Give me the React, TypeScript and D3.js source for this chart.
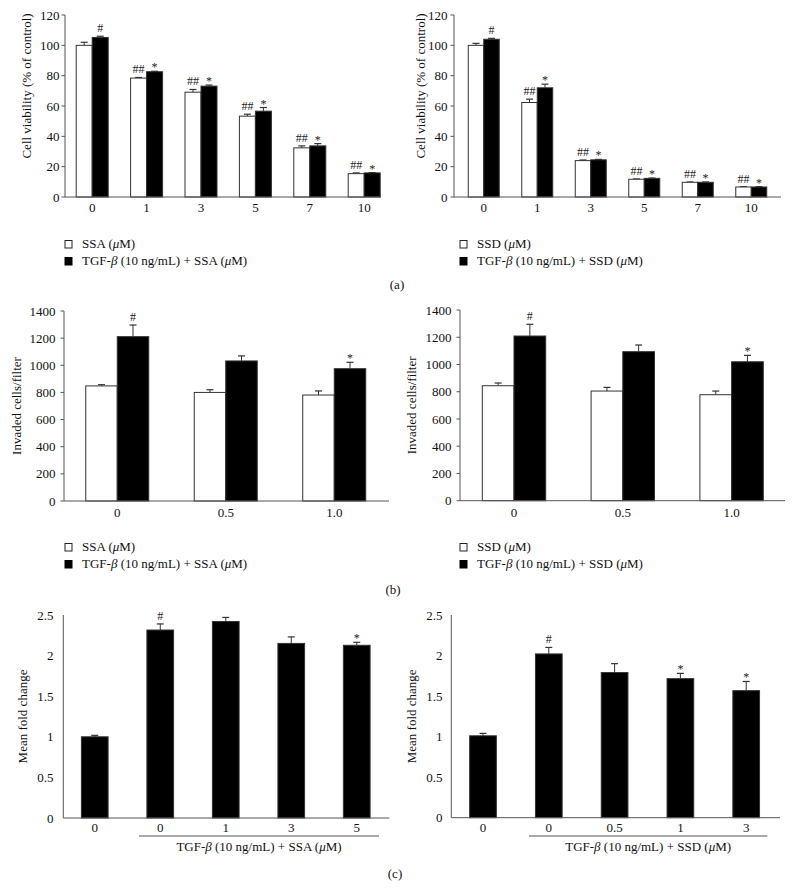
import React from "react";
import * as d3 from "d3";

// ---------- DATA ----------
const aCats = ["0", "1", "3", "5", "7", "10"];
const aTicks = [0, 20, 40, 60, 80, 100, 120];

const aSSAWhite = [100, 78.4, 69.1, 53.3, 32.4, 15.4];
const aSSAWhiteErr = [2, 0.4, 1.8, 1.3, 1.3, 0.5];
const aSSABlack = [105.2, 82.6, 73.1, 56.6, 33.7, 15.9];
const aSSABlackErr = [0.8, 0.3, 0.7, 2.4, 1.5, 0.2];

const aSSDWhite = [100, 62.3, 24, 11.7, 9.7, 6.6];
const aSSDWhiteErr = [1.3, 2.2, 0.4, 0.2, 0.2, 0.2];
const aSSDBlack = [104, 72, 24.5, 12.3, 9.7, 6.6];
const aSSDBlackErr = [0.6, 2.4, 0.3, 0.2, 0.2, 0.2];

const aWhiteMarks = ["", "##", "##", "##", "##", "##"];
const aBlackMarks = ["#", "*", "*", "*", "*", "*"];

const bCats = ["0", "0.5", "1.0"];
const bTicks = [0, 200, 400, 600, 800, 1000, 1200, 1400];

const bSSAWhite = [848, 800, 781];
const bSSAWhiteErr = [9, 20, 30];
const bSSABlack = [1211, 1032, 975];
const bSSABlackErr = [86, 37, 47];

const bSSDWhite = [844, 805, 778];
const bSSDWhiteErr = [20, 27, 27];
const bSSDBlack = [1209, 1094, 1020];
const bSSDBlackErr = [86, 49, 47];

const bWhiteMarks = ["", "", ""];
const bBlackMarks = ["#", "", "*"];

const cTicks = [0, 0.5, 1, 1.5, 2, 2.5];
const cSSACats = ["0", "0 ", "1", "3", "5"];
const cSSAValues = [1.0, 2.315, 2.42, 2.15, 2.127];
const cSSAErr = [0.018, 0.075, 0.05, 0.08, 0.037];
const cSSAMarks = ["", "#", "", "", "*"];

const cSSDCats = ["0", "0 ", "0.5", "1", "3"];
const cSSDValues = [1.01, 2.02, 1.79, 1.715, 1.567];
const cSSDErr = [0.03, 0.08, 0.11, 0.065, 0.113];
const cSSDMarks = ["", "#", "", "*", "*"];

// ---------- STYLE ----------
const FONT = "'Liberation Serif', 'Times New Roman', serif";
const AXIS = "#555";
const BAR_STROKE = "#333";

type Series = {
  values: number[];
  errs: number[];
  fill: string;
  marks: string[];
  offset: number; // in bar widths relative to band centre
};

type PanelProps = {
  cats: string[];
  ticks: number[];
  domain: [number, number];
  band: [number, number];
  axisX: number;
  axisEnd: number;
  yBottom: number;
  yTop: number;
  barW: number;
  series: Series[];
  yLabel: string;
  yLabelX: number;
  yLabelY?: number;
  tickLen: number;
  labelEnd: number;
  xLabelDy: number;
};

function BarPanel(p: PanelProps) {
  const x = d3.scaleBand<string>().domain(p.cats).range(p.band).padding(0);
  const y = d3.scaleLinear().domain(p.domain).range([p.yBottom, p.yTop]);
  const centre = (c: string) => (x(c) as number) + x.bandwidth() / 2;
  const yMid = p.yLabelY ?? (p.yBottom + p.yTop) / 2;
  return (
    <g fontFamily={FONT}>
      {p.series.map((s, si) =>
        p.cats.map((c, i) => {
          const x0 = centre(c) + s.offset * p.barW;
          const top = y(s.values[i]);
          const errTop = y(s.values[i] + s.errs[i]);
          const cx = x0 + p.barW / 2;
          const mark = s.marks[i];
          return (
            <g key={`${si}-${i}`}>
              <line x1={cx} x2={cx} y1={top} y2={errTop} stroke={BAR_STROKE} strokeWidth={1} />
              <line x1={cx - 3.5} x2={cx + 3.5} y1={errTop} y2={errTop} stroke={BAR_STROKE} strokeWidth={1.2} />
              <rect
                x={x0}
                y={top}
                width={p.barW}
                height={p.yBottom - top}
                fill={s.fill}
                stroke={BAR_STROKE}
                strokeWidth={1}
              />
              {mark && (
                <text
                  x={cx}
                  y={errTop - (mark.includes("#") ? 4 : 0)}
                  textAnchor="middle"
                  fontSize={12}
                  fill="#222"
                >
                  {mark}
                </text>
              )}
            </g>
          );
        })
      )}
      {/* axes */}
      <line x1={p.axisX} x2={p.axisX} y1={p.yTop} y2={p.yBottom} stroke={AXIS} strokeWidth={1} />
      <line x1={p.axisX} x2={p.axisEnd} y1={p.yBottom} y2={p.yBottom} stroke={AXIS} strokeWidth={1} />
      {p.ticks.map((t) => (
        <g key={t}>
          {p.tickLen > 0 && (
            <line x1={p.axisX - p.tickLen} x2={p.axisX} y1={y(t)} y2={y(t)} stroke={AXIS} strokeWidth={1} />
          )}
          <text x={p.labelEnd} y={y(t)} dy="0.35em" textAnchor="end" fontSize={13} fill="#111">
            {d3.format("~g")(t)}
          </text>
        </g>
      ))}
      {p.cats.map((c) => (
        <text key={c} x={centre(c)} y={p.yBottom + p.xLabelDy} textAnchor="middle" fontSize={13} fill="#111">
          {c.trim()}
        </text>
      ))}
      <text
        transform={`translate(${p.yLabelX},${yMid}) rotate(-90)`}
        textAnchor="middle"
        fontSize={13}
        fill="#111"
      >
        {p.yLabel}
      </text>
    </g>
  );
}

function Legend({ x, y, drug }: { x: number; y: number; drug: string }) {
  return (
    <g fontFamily={FONT} fontSize={13} fill="#111">
      <rect x={x} y={y - 7.5} width={7} height={7.5} fill="#fff" stroke="#222" strokeWidth={1} />
      <text x={x + 17} y={y}>
        {drug} (<tspan fontStyle="italic">μ</tspan>M)
      </text>
      <rect x={x} y={y + 9.5} width={7} height={7.5} fill="#000" stroke="#000" strokeWidth={1} />
      <text x={x + 17} y={y + 17}>
        TGF-<tspan fontStyle="italic">β</tspan> (10 ng/mL) + {drug} (<tspan fontStyle="italic">μ</tspan>M)
      </text>
    </g>
  );
}

function GroupLabel({ x1, x2, y, drug }: { x1: number; x2: number; y: number; drug: string }) {
  return (
    <g fontFamily={FONT} fontSize={13} fill="#111">
      <line x1={x1} x2={x2} y1={y} y2={y} stroke={AXIS} strokeWidth={1} />
      <text x={(x1 + x2) / 2} y={y + 14.5} textAnchor="middle">
        TGF-<tspan fontStyle="italic">β</tspan> (10 ng/mL) + {drug} (<tspan fontStyle="italic">μ</tspan>M)
      </text>
    </g>
  );
}

export default function App() {
  return (
    <svg
      width={794}
      height={888}
      viewBox="0 0 794 888"
      style={{ position: "absolute", left: 0, top: 0, background: "#fff" }}
    >
      <rect width={794} height={888} fill="#fff" />
      {/* (a) left */}
      <BarPanel
        cats={aCats}
        ticks={aTicks}
        domain={[0, 120]}
        band={[65, 391.4]}
        axisX={65}
        axisEnd={381}
        yBottom={197}
        yTop={15}
        barW={16}
        series={[
          { values: aSSAWhite, errs: aSSAWhiteErr, fill: "#fff", marks: aWhiteMarks, offset: -1 },
          { values: aSSABlack, errs: aSSABlackErr, fill: "#000", marks: aBlackMarks, offset: 0 },
        ]}
        yLabel="Cell viability (% of control)"
        yLabelX={31}
        yLabelY={86}
        tickLen={3.5}
        labelEnd={59.5}
        xLabelDy={14.5}
      />
      {/* (a) right */}
      <BarPanel
        cats={aCats}
        ticks={aTicks}
        domain={[0, 120]}
        band={[457, 778]}
        axisX={454}
        axisEnd={781}
        yBottom={197}
        yTop={15}
        barW={15.5}
        series={[
          { values: aSSDWhite, errs: aSSDWhiteErr, fill: "#fff", marks: aWhiteMarks, offset: -1 },
          { values: aSSDBlack, errs: aSSDBlackErr, fill: "#000", marks: aBlackMarks, offset: 0 },
        ]}
        yLabel="Cell viability (% of control)"
        yLabelX={425}
        yLabelY={86}
        tickLen={3.5}
        labelEnd={447.5}
        xLabelDy={14.5}
      />
      <Legend x={65} y={248} drug="SSA" />
      <Legend x={460} y={248} drug="SSD" />
      <text x={397} y={289} textAnchor="middle" fontFamily={FONT} fontSize={13} fill="#111">(a)</text>

      {/* (b) left */}
      <BarPanel
        cats={bCats}
        ticks={bTicks}
        domain={[0, 1400]}
        band={[63, 388.5]}
        axisX={64}
        axisEnd={389}
        yBottom={501}
        yTop={311}
        barW={31.5}
        series={[
          { values: bSSAWhite, errs: bSSAWhiteErr, fill: "#fff", marks: bWhiteMarks, offset: -1 },
          { values: bSSABlack, errs: bSSABlackErr, fill: "#000", marks: bBlackMarks, offset: 0 },
        ]}
        yLabel="Invaded cells/filter"
        yLabelX={20.5}
        tickLen={3.5}
        labelEnd={55.5}
        xLabelDy={15.5}
      />
      {/* (b) right */}
      <BarPanel
        cats={bCats}
        ticks={bTicks}
        domain={[0, 1400]}
        band={[459.6, 786]}
        axisX={460}
        axisEnd={785}
        yBottom={500.7}
        yTop={310}
        barW={31.7}
        series={[
          { values: bSSDWhite, errs: bSSDWhiteErr, fill: "#fff", marks: bWhiteMarks, offset: -1 },
          { values: bSSDBlack, errs: bSSDBlackErr, fill: "#000", marks: bBlackMarks, offset: 0 },
        ]}
        yLabel="Invaded cells/filter"
        yLabelX={415.5}
        tickLen={3.5}
        labelEnd={451.5}
        xLabelDy={15.8}
      />
      <Legend x={65} y={551} drug="SSA" />
      <Legend x={460} y={551} drug="SSD" />
      <text x={393} y={593.5} textAnchor="middle" fontFamily={FONT} fontSize={13} fill="#111">(b)</text>

      {/* (c) left */}
      <BarPanel
        cats={cSSACats}
        ticks={cTicks}
        domain={[0, 2.5]}
        band={[62, 389.5]}
        axisX={63.3}
        axisEnd={389.3}
        yBottom={818}
        yTop={615}
        barW={26.7}
        series={[{ values: cSSAValues, errs: cSSAErr, fill: "#000", marks: cSSAMarks, offset: -0.5 }]}
        yLabel="Mean fold change"
        yLabelX={27}
        tickLen={0}
        labelEnd={53.5}
        xLabelDy={14.3}
      />
      <GroupLabel x1={139} x2={379} y={836} drug="SSA" />
      {/* (c) right */}
      <BarPanel
        cats={cSSDCats}
        ticks={cTicks}
        domain={[0, 2.5]}
        band={[450.1, 779.1]}
        axisX={451.3}
        axisEnd={780}
        yBottom={817.7}
        yTop={615}
        barW={26.7}
        series={[{ values: cSSDValues, errs: cSSDErr, fill: "#000", marks: cSSDMarks, offset: -0.5 }]}
        yLabel="Mean fold change"
        yLabelX={416}
        tickLen={0}
        labelEnd={442.5}
        xLabelDy={14.3}
      />
      <GroupLabel x1={529} x2={767.3} y={836} drug="SSD" />
      <text x={395} y={878} textAnchor="middle" fontFamily={FONT} fontSize={13} fill="#111">(c)</text>
    </svg>
  );
}
